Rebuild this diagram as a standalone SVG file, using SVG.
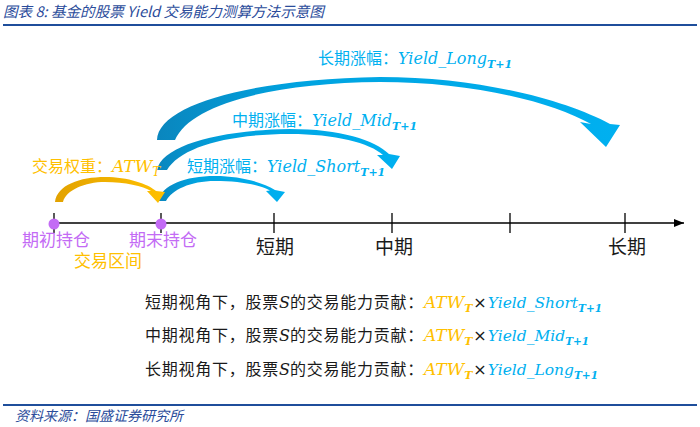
<svg xmlns="http://www.w3.org/2000/svg" width="700" height="427" viewBox="0 0 700 427">
<defs>
<linearGradient id="gBlue" x1="0" y1="0" x2="1" y2="0">
<stop offset="0" stop-color="#0A86BE"/>
<stop offset="0.3" stop-color="#00A3E0"/>
<stop offset="1" stop-color="#00B0F0"/>
</linearGradient>
<linearGradient id="gOrange" x1="0" y1="0" x2="1" y2="0">
<stop offset="0" stop-color="#E2A200"/>
<stop offset="1" stop-color="#FFC000"/>
</linearGradient>
<marker id="axisHead" viewBox="0 0 10 10" refX="10" refY="5" markerWidth="10" markerHeight="10" markerUnits="userSpaceOnUse" orient="auto">
<path d="M0,1 L10,5 L0,9 Z" fill="#000"/>
</marker>
</defs>
<style>
.cjk{font-family:"Noto Sans CJK SC","Noto Sans",sans-serif;}
.sp{letter-spacing:0.75px;}
.math{font-family:"DejaVu Serif","Liberation Serif",serif;font-style:italic;}
.blue{fill:#00B0F0;}
.orange{fill:#FFC000;}
.purple{fill:#C36BF5;}
.black{fill:#1a1a1a;}
.hdr{font-family:"Noto Sans CJK SC","Liberation Sans",sans-serif;font-style:italic;fill:#2B4C9B;}
.rule{stroke:#1F4E9B;stroke-width:2;}
.tick{stroke:#000;stroke-width:1.3;}
</style>
<rect width="700" height="427" fill="#fff"/>
<text class="hdr" x="3" y="17" font-size="14.6">图表 8: 基金的股票 Yield 交易能力测算方法示意图</text>
<line class="rule" x1="3" y1="25" x2="697" y2="25"/>
<line class="rule" x1="3" y1="405" x2="697" y2="405"/>
<text class="hdr" x="15" y="421" font-size="14">资料来源：国盛证券研究所</text>

<g id="connectors">
<line x1="53" y1="223" x2="684" y2="223" stroke="#000" stroke-width="1.3" marker-end="url(#axisHead)"/>
<line class="tick" x1="54" y1="213" x2="54" y2="233"/>
<line class="tick" x1="161" y1="213" x2="161" y2="233"/>
<line class="tick" x1="274" y1="213" x2="274" y2="233"/>
<line class="tick" x1="392" y1="213" x2="392" y2="233"/>
<line class="tick" x1="510" y1="213" x2="510" y2="233"/>
<line class="tick" x1="625" y1="213" x2="625" y2="233"/>
<path id="arrow-long" fill="url(#gBlue)" d="M157 140 C158 105 250 79 380 77 C480 77 565 100 610 124 L620 125 L606 147 L580 122 L591 124 C550 101 470 82 380 82 C270 83 190 105 175 140 Z"/>
<path id="arrow-mid" fill="url(#gBlue)" d="M157 170 C162 145 220 130 290 129 C340 129 375 140 389 154 L400 156 L392 169 L377 155 L383 155 C370 143 335 134 290 134 C225 134 180 148 167 170 Z"/>
<path id="arrow-short" fill="url(#gBlue)" d="M158 201 C162 185 185 176 215 176 C240 176 262 182 275 190 L285 192 L277 202 L266 191 L270 190.5 C258 184 238 181 215 181 C190 181 172 190 166 201 Z"/>
<path id="arrow-orange" fill="url(#gOrange)" d="M55 202 C57 185 80 177 105 177 C128 177 148 184 156 191 L165 192 L158 203 L147 191 L151 191 C143 186 125 182 105 182 C85 182 66 190 63 202 Z"/>
</g>

<g id="node-start">
<circle cx="54" cy="224" r="5.5" fill="#C36BF5"/>
<text class="cjk purple" x="56" y="246" font-size="17" text-anchor="middle">期初持仓</text>
</g>
<g id="node-end">
<circle cx="161" cy="224" r="5.5" fill="#C36BF5"/>
<text class="cjk purple" x="163" y="246" font-size="17" text-anchor="middle">期末持仓</text>
</g>
<g id="node-interval">
<text class="cjk orange" x="108" y="267" font-size="17" text-anchor="middle">交易区间</text>
</g>
<g id="node-short">
<text class="cjk black" x="275" y="254" font-size="19" text-anchor="middle">短期</text>
</g>
<g id="node-mid">
<text class="cjk black" x="394" y="254" font-size="19" text-anchor="middle">中期</text>
</g>
<g id="node-long">
<text class="cjk black" x="627" y="254" font-size="19" text-anchor="middle">长期</text>
</g>

<g id="label-atw">
<text x="32" y="172" font-size="16"><tspan class="cjk orange">交易权重：</tspan><tspan class="math orange" font-size="17">ATW</tspan><tspan class="math orange" font-size="12" dy="4">T</tspan></text>
</g>
<g id="label-short">
<text x="187" y="172" font-size="16"><tspan class="cjk blue">短期涨幅：</tspan><tspan class="math blue" font-size="16">Yield_Short</tspan><tspan class="math blue" font-size="11" dy="4" font-weight="bold">T+1</tspan></text>
</g>
<g id="label-mid">
<text x="232" y="126" font-size="16"><tspan class="cjk blue">中期涨幅：</tspan><tspan class="math blue" font-size="16">Yield_Mid</tspan><tspan class="math blue" font-size="11" dy="4" font-weight="bold">T+1</tspan></text>
</g>
<g id="label-long">
<text x="318" y="64" font-size="16"><tspan class="cjk blue">长期涨幅：</tspan><tspan class="math blue" font-size="16">Yield_Long</tspan><tspan class="math blue" font-size="11" dy="4" font-weight="bold">T+1</tspan></text>
</g>

<g id="formula-short">
<text x="145" y="308" font-size="16"><tspan class="cjk sp black">短期视角下，股票</tspan><tspan class="math black">S</tspan><tspan class="cjk sp black">的交易能力贡献：</tspan><tspan class="math orange" font-size="17">ATW</tspan><tspan class="math orange" font-size="11" dy="4" font-weight="bold">T</tspan><tspan class="black" font-family="DejaVu Sans, sans-serif" font-size="16" dy="-4" dx="1">×</tspan><tspan class="math blue" font-size="15.5" dx="1">Yield_Short</tspan><tspan class="math blue" font-size="10.5" dy="4" font-weight="bold">T+1</tspan></text>
</g>
<g id="formula-mid">
<text x="145" y="341" font-size="16"><tspan class="cjk sp black">中期视角下，股票</tspan><tspan class="math black">S</tspan><tspan class="cjk sp black">的交易能力贡献：</tspan><tspan class="math orange" font-size="17">ATW</tspan><tspan class="math orange" font-size="11" dy="4" font-weight="bold">T</tspan><tspan class="black" font-family="DejaVu Sans, sans-serif" font-size="16" dy="-4" dx="1">×</tspan><tspan class="math blue" font-size="15.5" dx="1">Yield_Mid</tspan><tspan class="math blue" font-size="10.5" dy="4" font-weight="bold">T+1</tspan></text>
</g>
<g id="formula-long">
<text x="145" y="375" font-size="16"><tspan class="cjk sp black">长期视角下，股票</tspan><tspan class="math black">S</tspan><tspan class="cjk sp black">的交易能力贡献：</tspan><tspan class="math orange" font-size="17">ATW</tspan><tspan class="math orange" font-size="11" dy="4" font-weight="bold">T</tspan><tspan class="black" font-family="DejaVu Sans, sans-serif" font-size="16" dy="-4" dx="1">×</tspan><tspan class="math blue" font-size="15.5" dx="1">Yield_Long</tspan><tspan class="math blue" font-size="10.5" dy="4" font-weight="bold">T+1</tspan></text>
</g>
</svg>
